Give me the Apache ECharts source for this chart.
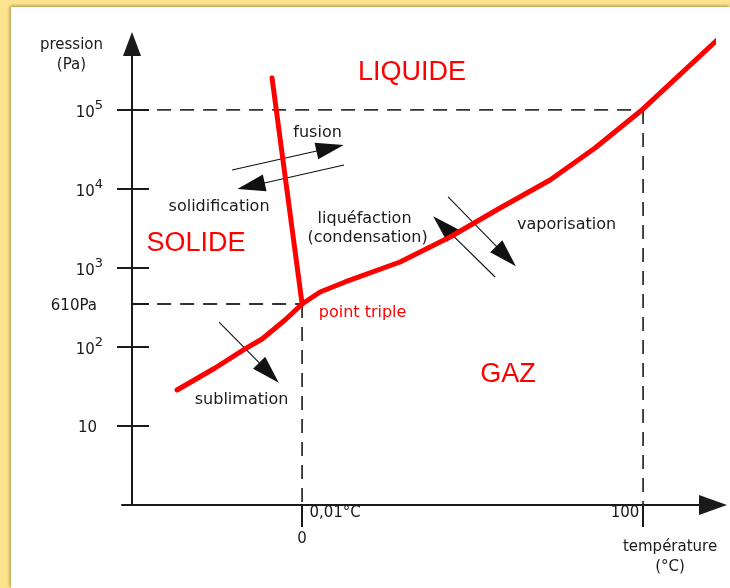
<!DOCTYPE html>
<html><head><meta charset="utf-8">
<script src="https://cdn.jsdelivr.net/npm/echarts@6/dist/echarts.min.js"></script>
<style>
html,body{margin:0;padding:0;width:730px;height:588px;overflow:hidden;background:#fde38e;}
#panel{position:absolute;left:11px;top:7px;width:719px;height:581px;background:#fff;box-shadow:-1px -1px 3px rgba(90,70,20,0.55);}
#chart{position:absolute;left:0;top:0;width:730px;height:588px;}
</style></head><body><div id="panel"></div><div id="chart"></div>
<script>
// ---- data (temperature in °C, pressure in decades of Pa, as drawn in the diagram) ----
const fusionCurve = [[-8.8, 5.405], [0.01, 2.544]];
const sublimationCurve = [[-36.66, 1.456], [-25.51, 1.734], [-16.72, 1.975], [-11.73, 2.101], [-4.99, 2.342], [0.01, 2.544]];
const vaporisationCurve = [[0.01, 2.544], [5.28, 2.696], [12.61, 2.823], [28.74, 3.076], [43.4, 3.392], [58.06, 3.759], [72.73, 4.114], [85.92, 4.519], [100, 5.013], [121.7, 5.886]];
const triplePoint = [0.01, 2.544];
const boilingPoint = [100, 5];
const guideStartT = -42.5;

const yTickValues = [1, 2, 3, 4, 5];
const yLabelValues = [1, 2, 2.544, 3, 4, 5];
const yLabelBase = ['10', '10', '610Pa', '10', '10', '10'];
const yLabelExp = ['', '2', '', '3', '4', '5'];
const xTickValues = [0, 100];
const xTickLabels = ['0,01°C', '100'];
const xZeroLabel = '0';
const xAxisTitle = 'température\n(°C)';
const xAxisTitleAnchor = [107.9, -0.66];
const yAxisTitle = 'pression\n(Pa)';

const arrowLines = [
  [[-20.53, 4.241], [8.21, 4.519]],
  [[12.32, 4.304], [-14.96, 4.038]],
  [[56.6, 2.886], [41.35, 3.532]],
  [[42.82, 3.899], [59.82, 3.149]],
  [[-24.34, 2.316], [-9.71, 1.675]]
];

const phaseNames = ['LIQUIDE', 'SOLIDE', 'GAZ'];
const phaseAnchors = [[32.26, 5.468], [-31.09, 3.304], [60.41, 1.646]];
const tripleLabel = 'point triple';
const tripleLabelAnchor = [17.74, 2.43];
const processNames = ['fusion', 'solidification', 'liquéfaction', '(condensation)', 'vaporisation', 'sublimation'];
const processAnchors = [[4.55, 4.709], [-24.34, 3.772], [18.33, 3.62], [19.21, 3.38], [77.57, 3.544], [-17.74, 1.329]];

// ---- chart ----
const xMin = -52.8, xMax = 120.5, yMin = 0, yMax = 5.835;
const FONT = 'DejaVu Sans';
const INK = '#1a1a1a';
const RED = '#ff0000';

const guides = [
  [[guideStartT, boilingPoint[1]], boilingPoint],
  [boilingPoint, [boilingPoint[0], yMin]],
  [[guideStartT, triplePoint[1]], triplePoint],
  [triplePoint, [triplePoint[0], yMin]]
];

const annotations = [];
phaseNames.forEach((n, i) => annotations.push({name: n, value: phaseAnchors[i],
  label: {color: RED, fontSize: 27, fontFamily: 'Liberation Sans'}}));
annotations.push({name: tripleLabel, value: tripleLabelAnchor,
  label: {color: RED, fontSize: 16, fontFamily: FONT}});
processNames.forEach((n, i) => annotations.push({name: n, value: processAnchors[i],
  label: {color: INK, fontSize: 16, fontFamily: FONT}}));
annotations.push({name: xAxisTitle, value: xAxisTitleAnchor,
  label: {color: INK, fontSize: 15, fontFamily: FONT, lineHeight: 20, align: 'center'}});

const chart = echarts.init(document.getElementById('chart'));
const redLine = (data) => ({
  type: 'line', data, symbol: 'none', clip: false, silent: true, animation: false,
  lineStyle: {color: RED, width: 5, cap: 'round', join: 'round'}
});

chart.setOption({
  animation: false,
  grid: {left: 122, right: 17, top: 44, bottom: 83, containLabel: false, outerBoundsMode: 'none'},
  xAxis: [{
    type: 'value', min: xMin, max: xMax, position: 'bottom',
    axisLine: {onZero: false, lineStyle: {color: INK, width: 2}, symbol: ['none', 'triangle'], symbolSize: [20, 28]},
    axisTick: {show: true, customValues: xTickValues, length: 22, lineStyle: {color: INK, width: 2}},
    axisLabel: {
      customValues: xTickValues, margin: 1, fontFamily: FONT, fontSize: 15, color: INK,
      formatter: v => v === xTickValues[0] ? '{l|' + xTickLabels[0] + '}' : '{r|' + xTickLabels[1] + '}',
      rich: {l: {fontFamily: FONT, fontSize: 15, color: INK, padding: [0, 0, 0, 66]},
             r: {fontFamily: FONT, fontSize: 15, color: INK, padding: [0, 36, 0, 0]}}
    },
    splitLine: {show: false}
  }, {
    type: 'value', min: xMin, max: xMax, position: 'bottom',
    axisLine: {show: false, onZero: false}, axisTick: {show: false}, splitLine: {show: false},
    axisLabel: {customValues: [0], margin: 27, fontFamily: FONT, fontSize: 15, color: INK, formatter: () => xZeroLabel}
  }],
  yAxis: [{
    type: 'value', min: yMin, max: yMax, position: 'left', offset: -10,
    axisLine: {onZero: false, lineStyle: {color: INK, width: 2}, symbol: ['none', 'triangle'], symbolSize: [18, 24]},
    axisTick: {show: true, customValues: yTickValues, length: 15, lineStyle: {color: INK, width: 2}},
    axisLabel: {
      customValues: yLabelValues, margin: 29, fontFamily: FONT, fontSize: 15, color: INK,
      formatter: v => {
        const i = yLabelValues.indexOf(v);
        if (i < 0) return '';
        return yLabelExp[i] ? '{b|' + yLabelBase[i] + '}{s|' + yLabelExp[i] + '}' : '{p|' + yLabelBase[i] + '}';
      },
      rich: {
        b: {fontFamily: FONT, fontSize: 15, color: INK, padding: [6, 0, 0, 0]},
        s: {fontFamily: FONT, fontSize: 13, color: INK, padding: [0, 0, 8, 0]},
        p: {fontFamily: FONT, fontSize: 15, color: INK, padding: [4, 6, 0, 0]}
      }
    },
    splitLine: {show: false},
    name: yAxisTitle, nameLocation: 'end', nameGap: -11,
    nameTextStyle: {fontFamily: FONT, fontSize: 15, color: INK, align: 'center', verticalAlign: 'middle', lineHeight: 20, padding: [0, 121, 0, 0]}
  }, {
    type: 'value', min: yMin, max: yMax, position: 'left', offset: -10,
    axisLine: {show: false, onZero: false}, splitLine: {show: false}, axisLabel: {show: false},
    axisTick: {show: true, inside: true, customValues: yLabelValues, length: 17, lineStyle: {color: INK, width: 2}}
  }],
  series: [
    {
      type: 'lines', coordinateSystem: 'cartesian2d', polyline: true, silent: true,
      lineStyle: {color: '#333', width: 1.8, type: [14, 9], opacity: 1},
      data: guides.map(c => ({coords: c}))
    },
    redLine(sublimationCurve),
    redLine(vaporisationCurve),
    redLine(fusionCurve),
    {
      type: 'lines', coordinateSystem: 'cartesian2d', silent: true,
      symbol: ['none', 'triangle'], symbolSize: [1, [17, 28]],
      lineStyle: {color: '#111', width: 1.1, opacity: 1},
      data: arrowLines.map(c => ({coords: c}))
    },
    {
      type: 'scatter', symbol: 'circle', symbolSize: 0.01, silent: true, clip: false,
      itemStyle: {color: '#ffffff', opacity: 1},
      label: {show: true, position: 'inside', formatter: p => p.name, opacity: 1, textBorderWidth: 0},
      data: annotations
    }
  ]
});
</script></body></html>
